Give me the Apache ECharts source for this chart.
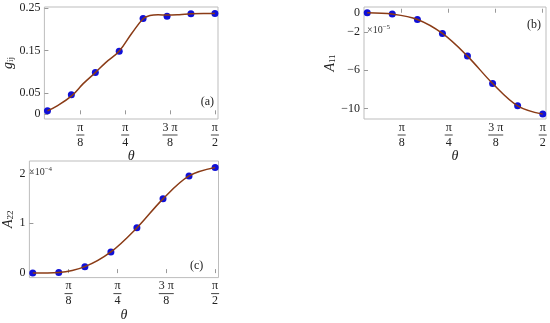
<!DOCTYPE html>
<html><head><meta charset="utf-8">
<script src="https://cdn.jsdelivr.net/npm/echarts@6/dist/echarts.min.js"></script>
<style>html,body{margin:0;padding:0;background:#fff}#c{width:550px;height:323px}</style>
</head><body><div id="c"></div>
<script>
// sample angles (rad)
const theta = [0.105, 0.314, 0.524, 0.733, 0.942, 1.152, 1.361, 1.571];
// panel (a) points and curve
const gPoints = [0.0084, 0.046, 0.098, 0.148, 0.225, 0.230, 0.236, 0.2366];
const thetaCurveA = [0.105, 0.190, 0.319, 0.418, 0.524, 0.617, 0.732, 0.845, 0.945, 1.002, 1.073, 1.153, 1.258, 1.364, 1.471, 1.571];
const gCurve = [0.0084, 0.020, 0.044, 0.072, 0.098, 0.122, 0.148, 0.191, 0.225, 0.232, 0.234, 0.233, 0.234, 0.236, 0.2366, 0.2366];
// panel (b) A11 (x10^-5)
const a11 = [0, -0.14, -0.70, -2.16, -4.53, -7.39, -9.72, -10.59];
// panel (c) A22 (x10^-4)
const a22 = [0, 0.013, 0.13, 0.425, 0.908, 1.49, 1.95, 2.12];
// tick positions / labels
const xTicks = [0.3927, 0.7854, 1.1781, 1.5708];
const xTickNum = ['π', 'π', '3 π', 'π'];
const xTickDen = ['8', '4', '8', '2'];
const yTicksA = [0, 0.05, 0.15, 0.25];
const yTickLabelsA = ['0', '0.05', '0.15', '0.25'];
const yTicksB = [0, -2, -6, -10];
const yTickLabelsB = ['0', '\u22122', '\u22126', '\u221210'];
const yTicksC = [0, 1, 2];
const yTickLabelsC = ['0', '1', '2'];

const FONT = 'Liberation Serif';
const CURVE = '#8a3b16';
const DOT = '#1010d8';
const FRAME = '#bdbdbd';

function xAxisFor(gi) {
  return {
    type: 'value', gridIndex: gi, min: 0.078, max: 1.598,
    name: 'θ', nameLocation: 'middle', nameGap: 29,
    nameTextStyle: {fontFamily: FONT, fontStyle: 'italic', fontSize: 14, color: '#222'},
    axisLine: {show: false}, splitLine: {show: false},
    axisTick: {show: true, inside: true, length: 4, customValues: xTicks, lineStyle: {color: '#999'}},
    axisLabel: {
      customValues: xTicks, margin: 3,
      formatter: function (v) {
        let i = xTicks.findIndex(t => Math.abs(t - v) < 1e-3);
        if (i < 0) return '';
        let l = xTickNum[i].length > 1 ? 'l2' : 'l';
        return '{n|' + xTickNum[i] + '}\n{' + l + '| }\n{d|' + xTickDen[i] + '}';
      },
      rich: {
        n: {fontFamily: FONT, fontSize: 12, color: '#222', lineHeight: 11, align: 'center'},
        l: {width: 8, height: 1, lineHeight: 4, backgroundColor: '#444', align: 'center'},
        l2: {width: 15, height: 1, lineHeight: 4, backgroundColor: '#444', align: 'center'},
        d: {fontFamily: FONT, fontSize: 12, color: '#222', lineHeight: 11, align: 'center'}
      }
    }
  };
}
function yAxisFor(gi, min, max, ticks, labels, nameRich, gap) {
  return {
    type: 'value', gridIndex: gi, min: min, max: max,
    name: nameRich, nameLocation: 'middle', nameGap: gap,
    nameTextStyle: {
      fontFamily: FONT, fontSize: 14, color: '#222',
      rich: {
        i: {fontFamily: FONT, fontStyle: 'italic', fontSize: 14, color: '#222'},
        s: {fontFamily: FONT, fontSize: 9, color: '#222', verticalAlign: 'bottom', padding: [6, 0, 0, 0]}
      }
    },
    axisLine: {show: false}, splitLine: {show: false},
    axisTick: {show: true, inside: true, length: 4, customValues: ticks, lineStyle: {color: '#999'}},
    axisLabel: {
      customValues: ticks, margin: 4,
      fontFamily: FONT, fontSize: 12, color: '#222',
      formatter: function (v) {
        let i = ticks.findIndex(t => Math.abs(t - v) < 1e-6);
        return i < 0 ? '' : labels[i];
      }
    }
  };
}
function zip(xs, ys) { return xs.map((x, i) => [x, ys[i]]); }

const chart = echarts.init(document.getElementById('c'));
chart.setOption({
  animation: false,
  grid: [
    {left: 40, top: 7, width: 178, height: 112, show: true, borderColor: FRAME, borderWidth: 1, backgroundColor: 'transparent'},
    {left: 364, top: 7, width: 182, height: 112, show: true, borderColor: FRAME, borderWidth: 1, backgroundColor: 'transparent'},
    {left: 25, top: 161, width: 193.5, height: 119.5, show: true, borderColor: FRAME, borderWidth: 1, backgroundColor: 'transparent'}
  ],
  xAxis: [xAxisFor(0), xAxisFor(1), xAxisFor(2)],
  yAxis: [
    yAxisFor(0, -0.011, 0.252, yTicksA, yTickLabelsA, '{i|g}{s|ij}', 24),
    yAxisFor(1, -11.1, 0.6, yTicksB, yTickLabelsB, '{i|A}{s|11}', 25),
    yAxisFor(2, -0.09, 2.25, yTicksC, yTickLabelsC, '{i|A}{s|22}', 12)
  ],
  series: [
    {type: 'line', xAxisIndex: 0, yAxisIndex: 0, data: zip(thetaCurveA, gCurve), smooth: 0.4, showSymbol: false, lineStyle: {color: CURVE, width: 1.5}},
    {type: 'scatter', xAxisIndex: 0, yAxisIndex: 0, data: zip(theta, gPoints), symbolSize: 7, itemStyle: {color: DOT, opacity: 1}},
    {type: 'line', xAxisIndex: 1, yAxisIndex: 1, data: zip(theta, a11), smooth: 0.35, showSymbol: false, lineStyle: {color: CURVE, width: 1.5}},
    {type: 'scatter', xAxisIndex: 1, yAxisIndex: 1, data: zip(theta, a11), symbolSize: 7, itemStyle: {color: DOT, opacity: 1}},
    {type: 'line', xAxisIndex: 2, yAxisIndex: 2, data: zip(theta, a22), smooth: 0.35, showSymbol: false, lineStyle: {color: CURVE, width: 1.5}},
    {type: 'scatter', xAxisIndex: 2, yAxisIndex: 2, data: zip(theta, a22), symbolSize: 7, itemStyle: {color: DOT, opacity: 1}}
  ],
  graphic: [
    {type: 'text', right: 550 - 214, top: 96, style: {text: '(a)', font: '12px "Liberation Serif"', fill: '#222'}},
    {type: 'text', left: 527, top: 19, style: {text: '(b)', font: '12px "Liberation Serif"', fill: '#222'}},
    {type: 'text', left: 190, top: 260, style: {text: '(c)', font: '12px "Liberation Serif"', fill: '#222'}},
    {type: 'text', left: 367, top: 24, style: {text: '×10{s|−5}', font: '10px "Liberation Serif"', fill: '#333',
      rich: {s: {fontSize: 7, fontFamily: FONT, fill: '#333', verticalAlign: 'top', padding: [0, 0, 5, 0]}}}},
    {type: 'text', left: 29, top: 166, style: {text: '×10{s|−4}', font: '10px "Liberation Serif"', fill: '#333',
      rich: {s: {fontSize: 7, fontFamily: FONT, fill: '#333', verticalAlign: 'top', padding: [0, 0, 5, 0]}}}}
  ]
});
</script></body></html>
